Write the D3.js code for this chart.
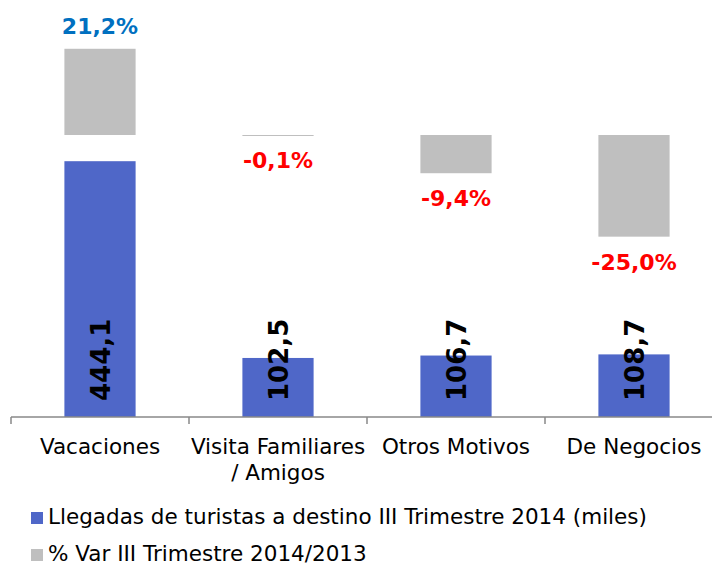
<!DOCTYPE html>
<html>
<head>
  <meta charset="utf-8">
  <title>Llegadas de turistas</title>
  <script src="https://d3js.org/d3.v7.min.js"></script>
  <style>
    body { margin: 0; background: #fff; }
    text { font-family: "DejaVu Sans", Verdana, sans-serif; }
  </style>
</head>
<body>
<script type="text/javascript">

// ****** DATA ******

  var categories = ["Vacaciones", "Visita Familiares / Amigos", "Otros Motivos", "De Negocios"];
  // llegadas III trimestre 2014 (miles)
  var arrivals = [444.1, 102.5, 106.7, 108.7];
  var arrivalLabels = ["444,1", "102,5", "106,7", "108,7"];
  // % var 2014/2013
  var pctChange = [21.2, -0.1, -9.4, -25.0];
  var pctLabels = ["21,2%", "-0,1%", "-9,4%", "-25,0%"];
  var seriesNames = ["Llegadas de turistas a destino III Trimestre 2014 (miles)",
                     "% Var III Trimestre 2014/2013"];

// ****** SETUP ******

  var width = 712,
      height = 565,
      blue = "#4F67C8",
      grey = "#BFBFBF";

  var svg = d3.select("body")
    .append("svg")
    .attr("width", width)
    .attr("height", height);

  var x = d3.scaleBand()
    .domain(categories)
    .range([11, 723])
    .paddingInner(0.6)
    .paddingOuter(0.3);

  // primary axis (blue bars) and secondary axis (grey bars), both hidden
  var yVal = d3.scaleLinear().domain([0, 500]).range([417, 129]);
  var yPct = d3.scaleLinear().domain([-30, 30]).range([257, 13]);

// ****** BARS ******

  svg.selectAll("rect.pct")
    .data(pctChange)
    .enter()
    .append("rect")
    .attr("class", "pct")
    .attr("x", function (d, i) { return x(categories[i]); })
    .attr("width", x.bandwidth())
    .attr("y", function (d) { return Math.min(yPct(d), yPct(0)); })
    .attr("height", function (d) { return Math.max(1, Math.abs(yPct(d) - yPct(0))); })
    .style("fill", grey);

  svg.selectAll("rect.val")
    .data(arrivals)
    .enter()
    .append("rect")
    .attr("class", "val")
    .attr("x", function (d, i) { return x(categories[i]); })
    .attr("width", x.bandwidth())
    .attr("y", function (d) { return yVal(d); })
    .attr("height", function (d) { return yVal(0) - yVal(d); })
    .style("fill", blue);

// ****** LABELS ******

  // rotated value labels inside the blue bars
  svg.selectAll("text.val")
    .data(arrivalLabels)
    .enter()
    .append("text")
    .attr("class", "val")
    .attr("transform", function (d, i) {
      var cx = x(categories[i]) + x.bandwidth() / 2 + 9.5;
      return "translate(" + cx + "," + (yVal(0) - 16) + ") rotate(-90)";
    })
    .style("font-size", "26px")
    .style("font-weight", "bold")
    .style("fill", "#000")
    .text(function (d) { return d; });

  // % labels: above positive bars, below negative ones
  svg.selectAll("text.pct")
    .data(pctChange)
    .enter()
    .append("text")
    .attr("class", "pct")
    .attr("x", function (d, i) { return x(categories[i]) + x.bandwidth() / 2; })
    .attr("y", function (d) { return d >= 0 ? yPct(d) - 15 : yPct(d) + 33; })
    .attr("text-anchor", "middle")
    .style("font-size", "22px")
    .style("font-weight", "bold")
    .style("fill", function (d) { return d >= 0 ? "#0070C0" : "#FF0000"; })
    .text(function (d, i) { return pctLabels[i]; });

// ****** AXIS ******

  var axis = svg.append("g").style("stroke", "#898989").style("stroke-width", 1.5);
  axis.append("line")
    .attr("x1", 11).attr("x2", width)
    .attr("y1", yVal(0)).attr("y2", yVal(0));
  axis.selectAll("line.tick")
    .data(categories)
    .enter()
    .append("line")
    .attr("class", "tick")
    .attr("x1", function (d) { return x(d) - x.step() * 0.3; })
    .attr("x2", function (d) { return x(d) - x.step() * 0.3; })
    .attr("y1", yVal(0)).attr("y2", yVal(0) + 7);

  var catLabels = svg.selectAll("text.cat")
    .data(categories)
    .enter()
    .append("text")
    .attr("class", "cat")
    .attr("text-anchor", "middle")
    .attr("x", function (d) { return x(d) + x.bandwidth() / 2; })
    .attr("y", 454)
    .style("font-size", "21.5px")
    .style("fill", "#000");

  catLabels.each(function (d) {
    var lines = d === "Visita Familiares / Amigos" ? ["Visita Familiares", "/ Amigos"] : [d];
    var t = d3.select(this);
    lines.forEach(function (l, j) {
      t.append("tspan")
        .attr("x", x(d) + x.bandwidth() / 2)
        .attr("dy", j === 0 ? 0 : 26)
        .text(l);
    });
  });

// ****** LEGEND ******

  var legend = svg.selectAll("g.legend")
    .data(seriesNames)
    .enter()
    .append("g")
    .attr("class", "legend")
    .attr("transform", function (d, i) { return "translate(31," + (512 + i * 37) + ")"; });

  legend.append("rect")
    .attr("width", 12)
    .attr("height", 12)
    .style("fill", function (d, i) { return i === 0 ? blue : grey; });

  legend.append("text")
    .attr("x", 17)
    .attr("y", 12)
    .style("font-size", "21.5px")
    .style("fill", "#000")
    .text(function (d) { return d; });

</script>
</body>
</html>
